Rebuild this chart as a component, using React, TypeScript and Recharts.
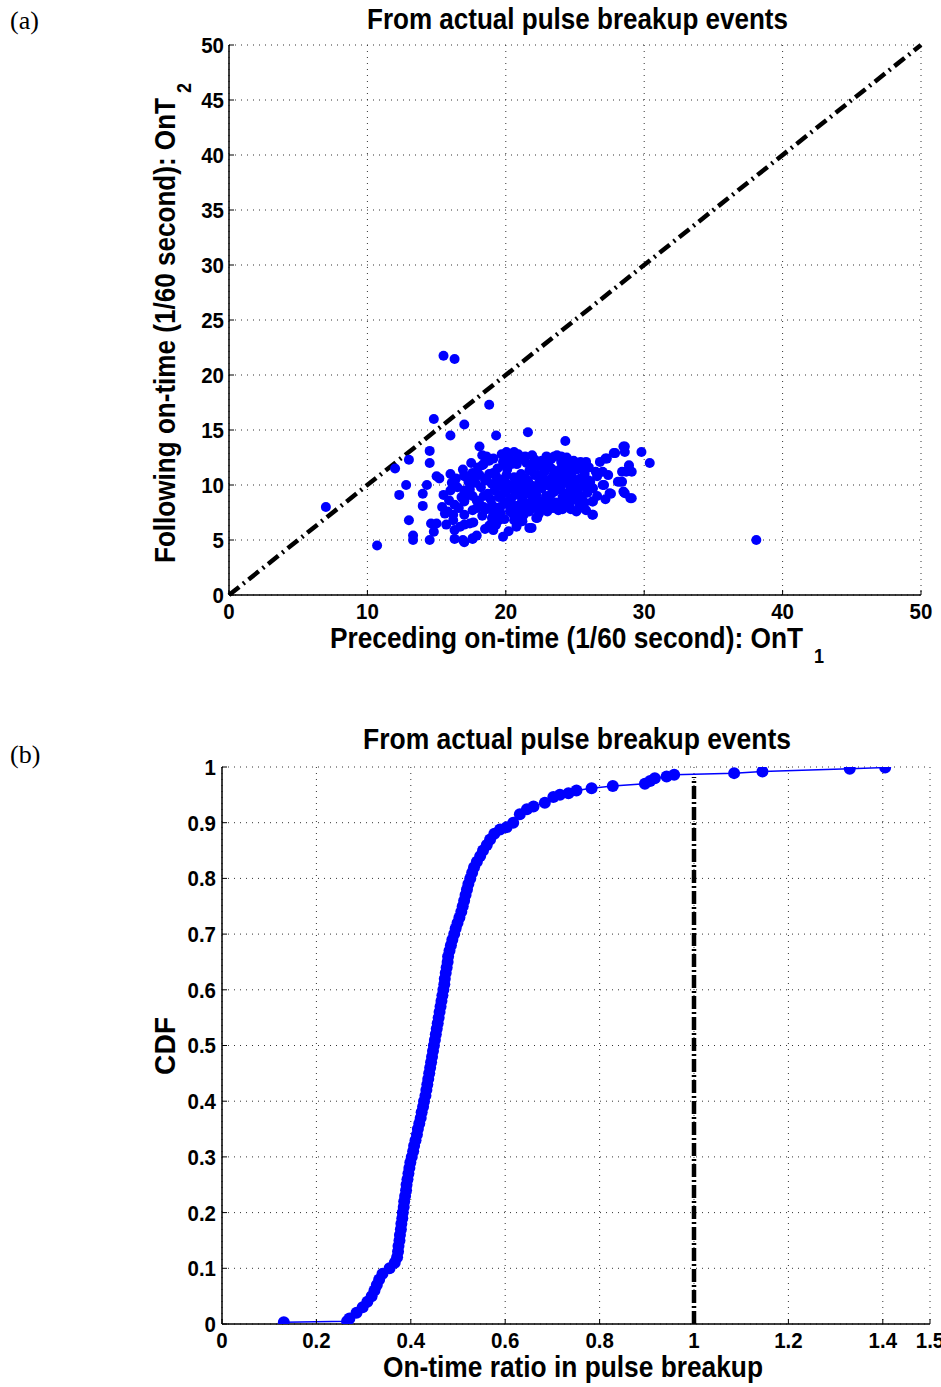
import React from 'react';
import {
  ScatterChart, Scatter, XAxis, YAxis, CartesianGrid, ReferenceLine, LineChart, Line,
} from 'recharts';

const FONT = "'Liberation Sans', Arial, 'Helvetica', sans-serif";
const SERIF = "'Liberation Serif', 'DejaVu Serif', serif";
const BLUE = '#0000ff';

// (a) preceding on-time OnT1 vs following on-time OnT2, in 1/60 s
const breakupEvents: [number, number][] = [
  [7.0, 8.0], [10.7, 4.5], [38.1, 5.0],
  [15.5, 21.75], [16.3, 21.45], [18.8, 17.3], [14.8, 16.0], [17.0, 15.5], [16.0, 14.5],
  [19.3, 14.5], [21.6, 14.8], [24.3, 14.0], [18.1, 13.5], [18.3, 12.7], [14.5, 13.1],
  [14.5, 12.0], [13.0, 12.3], [12.0, 11.5], [12.8, 10.0], [12.3, 9.1], [13.0, 6.8],
  [13.3, 5.4], [13.3, 5.0], [14.5, 5.0], [14.0, 8.1], [14.0, 9.2], [14.3, 10.0],
  [15.0, 10.8], [15.2, 10.6], [15.5, 9.1], [14.6, 6.5], [15.0, 6.5], [14.8, 5.75],
  [16.3, 5.1], [17.0, 4.8], [17.6, 5.1], [19.8, 5.3], [16.0, 11.0], [16.3, 10.3],
  [17.0, 10.8], [17.0, 9.5], [17.0, 8.5], [16.3, 8.2], [15.6, 7.4], [16.2, 7.3],
  [15.7, 6.4], [16.3, 5.9], [17.0, 7.3], [17.0, 6.4], [17.65, 6.6], [18.9, 6.4],
  [19.3, 6.4], [20.8, 6.4], [21.7, 6.1], [22.2, 7.0], [23.0, 7.6], [26.25, 7.3],
  [26.25, 8.5], [27.1, 10.0], [27.5, 9.25], [28.6, 9.25], [29.1, 8.8], [28.25, 10.3],
  [28.9, 11.8], [29.1, 11.2], [30.4, 12.0], [29.8, 13.0], [28.6, 13.5], [28.6, 13.0],
  [27.9, 12.9], [27.2, 12.4], [27.4, 10.9], [25.8, 12.1], [26.1, 10.3], [25.3, 9.1],
  [20.05, 13.0], [20.6, 13.0], [20.8, 12.3], [19.8, 12.1], [18.3, 11.8], [17.0, 10.9],
  [17.6, 11.1], [17.0, 8.6], [17.6, 7.7], [17.4, 6.5], [17.6, 5.15], [16.9, 5.0],
  [18.8, 6.3], [20.77, 6.2], [21.86, 6.1], [22.27, 7.0], [20.77, 7.1], [20.3, 7.6],
  [19.1, 7.4], [18.4, 8.0], [17.9, 8.6], [23.9, 8.2], [24.6, 8.0], [25.3, 8.3],
  [26.3, 8.5], [26.3, 7.3], [25.8, 7.7], [25.95, 10.3], [25.8, 12.0], [27.0, 11.2],
  [27.6, 9.2], [27.0, 10.0], [28.1, 10.3], [28.4, 10.3], [28.5, 9.4], [29.0, 8.8],
  [28.7, 11.2], [28.9, 11.5], [28.4, 11.2], [27.3, 12.4], [27.8, 12.9], [28.5, 13.5],
  [26.5, 11.2], [22.94, 12.6], [23.5, 12.6], [24.0, 12.6], [22.5, 11.8], [22.0, 11.8],
  [21.5, 12.0], [25.0, 11.8], [25.3, 11.7], [20.05, 10.9], [19.1, 11.1], [18.6, 10.6],
  [18.2, 9.8], [18.5, 10.4], [18.7, 9.2], [18.9, 8.7], [19.0, 10.1], [19.2, 9.5],
  [19.3, 10.8], [19.5, 8.9], [19.6, 9.9], [19.8, 10.5], [19.9, 8.4], [20.0, 9.3],
  [20.1, 11.4], [20.3, 10.0], [20.4, 8.8], [20.5, 9.6], [20.6, 10.7], [20.7, 8.1],
  [20.9, 9.1], [21.0, 10.3], [21.1, 11.0], [21.2, 8.6], [21.3, 9.8], [21.4, 10.6],
  [21.5, 9.2], [21.6, 8.3], [21.7, 11.3], [21.8, 10.0], [21.9, 9.5], [22.0, 8.8],
  [22.1, 10.9], [22.2, 9.1], [22.3, 11.7], [22.4, 10.2], [22.5, 8.5], [22.6, 9.7],
  [22.7, 10.6], [22.8, 11.2], [22.9, 9.0], [23.0, 10.4], [23.1, 8.7], [23.2, 9.9],
  [23.3, 11.5], [23.4, 10.8], [23.5, 9.4], [23.6, 8.4], [23.7, 10.1], [23.8, 11.0],
  [23.9, 9.6], [24.0, 10.5], [24.1, 8.9], [24.2, 11.6], [24.3, 9.2], [24.4, 10.3],
  [24.5, 8.6], [24.6, 11.2], [24.7, 9.8], [24.8, 10.7], [24.9, 9.0], [25.0, 10.1],
  [25.1, 11.4], [25.2, 9.5], [25.4, 10.6], [25.5, 8.9], [25.6, 9.9], [25.7, 11.0],
  [25.9, 9.3], [26.0, 10.4], [18.0, 11.6], [18.4, 11.9], [18.8, 12.2], [19.1, 12.4],
  [19.4, 11.5], [19.7, 12.8], [20.2, 12.6], [20.8, 11.9], [21.3, 12.3], [21.9, 12.7],
  [22.6, 12.2], [23.3, 12.4], [24.0, 12.1], [24.4, 12.5], [24.9, 12.2], [25.4, 12.1],
  [17.6, 9.0], [17.8, 10.2], [17.9, 7.9], [18.1, 8.3], [18.3, 7.2], [18.6, 7.8],
  [19.0, 7.0], [19.3, 7.9], [19.6, 7.5], [19.9, 6.9], [20.2, 8.2], [20.5, 7.4],
  [20.9, 7.8], [21.3, 7.3], [21.7, 7.6], [22.0, 7.9], [22.4, 7.4], [22.7, 8.0],
  [23.4, 7.9], [23.8, 7.7], [24.3, 8.1], [24.7, 7.8], [25.3, 7.9], [25.7, 8.4],
  [16.5, 9.8], [16.4, 10.6], [16.8, 8.9], [17.3, 10.3], [17.2, 9.1], [16.9, 11.4],
  [17.5, 12.0], [16.6, 7.9], [16.2, 6.8], [15.8, 7.6], [16.7, 6.2], [19.1, 5.9],
  [20.2, 5.8], [18.5, 6.0], [17.9, 5.4],
  [18.4, 9.0], [18.8, 11.0], [19.4, 10.3], [19.7, 9.1], [20.2, 9.8], [20.4, 11.9],
  [20.8, 10.0], [21.1, 9.4], [21.6, 10.4], [21.9, 8.6], [22.3, 9.9], [22.5, 10.9],
  [22.8, 8.3], [23.1, 11.8], [23.3, 9.2], [23.6, 10.6], [24.0, 9.9], [24.3, 11.1],
  [24.6, 9.4], [24.9, 10.4], [25.2, 8.6], [25.5, 11.6], [25.8, 10.0], [26.3, 9.7],
  [26.6, 10.8], [26.8, 12.1], [26.0, 11.6], [21.4, 12.6], [22.1, 12.3], [23.7, 12.7],
  [20.9, 12.8], [19.9, 11.8], [18.6, 12.6], [19.0, 8.2], [19.6, 8.0], [20.3, 8.6],
  [21.0, 8.2], [21.5, 7.9], [22.2, 8.2], [23.2, 8.1], [24.1, 7.8], [24.6, 8.4],
  [25.1, 7.6], [19.5, 6.8], [20.6, 6.8], [21.2, 6.7], [17.4, 9.6], [17.7, 10.7],
  [18.1, 10.9], [20.0, 10.2], [22.9, 10.0], [23.9, 11.4], [26.6, 9.0], [27.2, 8.7],
  [21.9, 11.6], [24.5, 12.0], [16.0, 9.5], [15.9, 8.6], [15.4, 8.0], [16.1, 10.2],
];

// (b) empirical CDF of the on-time ratio: ratio (x) and CDF level (y)
const cdfRatio = [
  0.131, 0.265, 0.270, 0.285, 0.298, 0.308, 0.317, 0.323, 0.328, 0.333, 0.340,
  0.355, 0.366, 0.371, 0.373, 0.374, 0.376, 0.377, 0.379, 0.380, 0.382, 0.383,
  0.385, 0.386, 0.388, 0.390, 0.391, 0.393, 0.395, 0.397, 0.399, 0.402, 0.405,
  0.407, 0.410, 0.413, 0.415, 0.418, 0.421, 0.423, 0.426, 0.428, 0.431, 0.433,
  0.435, 0.437, 0.439, 0.441, 0.443, 0.445, 0.447, 0.449, 0.451, 0.453, 0.455,
  0.457, 0.459, 0.461, 0.463, 0.465, 0.467, 0.469, 0.471, 0.472, 0.474, 0.476,
  0.478, 0.479, 0.482, 0.485, 0.488, 0.492, 0.495, 0.499, 0.503, 0.507, 0.510,
  0.513, 0.516, 0.519, 0.522, 0.526, 0.530, 0.534, 0.540, 0.547, 0.553, 0.561,
  0.568, 0.577, 0.589, 0.603, 0.617, 0.631, 0.646, 0.660, 0.684, 0.702, 0.716,
  0.734, 0.751, 0.783, 0.828, 0.896, 0.907, 0.917, 0.942, 0.958, 1.085, 1.145,
  1.330, 1.405,
];
const cdfLevel = [
  0.003, 0.005, 0.01, 0.02, 0.03, 0.04, 0.05, 0.06, 0.07, 0.08, 0.09,
  0.10, 0.11, 0.12, 0.13, 0.14, 0.15, 0.16, 0.17, 0.18, 0.19, 0.20,
  0.21, 0.22, 0.23, 0.24, 0.25, 0.26, 0.27, 0.28, 0.29, 0.30, 0.31,
  0.32, 0.33, 0.34, 0.35, 0.36, 0.37, 0.38, 0.39, 0.40, 0.41, 0.42,
  0.43, 0.44, 0.45, 0.46, 0.47, 0.48, 0.49, 0.50, 0.51, 0.52, 0.53,
  0.54, 0.55, 0.56, 0.57, 0.58, 0.59, 0.60, 0.61, 0.62, 0.63, 0.64,
  0.65, 0.66, 0.67, 0.68, 0.69, 0.70, 0.71, 0.72, 0.73, 0.74, 0.75,
  0.76, 0.77, 0.78, 0.79, 0.80, 0.81, 0.82, 0.83, 0.84, 0.85, 0.86,
  0.87, 0.88, 0.888, 0.892, 0.900, 0.915, 0.924, 0.929, 0.936, 0.946, 0.950,
  0.953, 0.958, 0.962, 0.966, 0.970, 0.975, 0.980, 0.983, 0.986, 0.989, 0.992,
  0.997, 0.999,
];

const xTicksA = [0, 10, 20, 30, 40, 50];
const yTicksA = [0, 5, 10, 15, 20, 25, 30, 35, 40, 45, 50];
const xTicksB = [0, 0.2, 0.4, 0.6, 0.8, 1, 1.2, 1.4, 1.5];
const yTicksB = [0, 0.1, 0.2, 0.3, 0.4, 0.5, 0.6, 0.7, 0.8, 0.9, 1];

const TITLE = 'From actual pulse breakup events';
const X_LABEL_A = 'Preceding on-time (1/60 second): OnT';
const Y_LABEL_A = 'Following on-time (1/60 second): OnT';
const X_LABEL_B = 'On-time ratio in pulse breakup';
const Y_LABEL_B = 'CDF';

const TICK_FS = 22;
const TICK_SX = 0.93;
const axisLine = { stroke: '#000', strokeWidth: 1.5 };
const fmtA = (v: number) => String(v);
const fmtB = (v: number) => String(+v.toFixed(1));

const makeTick = (axis: 'x' | 'y', fmt: (v: number) => string) => (p: any) => {
  const base = axis === 'x' ? p.y + 0.72 * TICK_FS : p.y + 0.36 * TICK_FS;
  return (
    <text
      transform={`translate(${p.x},${base}) scale(${TICK_SX},1)`}
      textAnchor={axis === 'x' ? 'middle' : 'end'}
      fontFamily={FONT} fontSize={TICK_FS} fontWeight={700} fill="#000"
    >
      {fmt(p.payload.value)}
    </text>
  );
};

const dot = (p: any) => <circle cx={p.cx} cy={p.cy} r={5} fill={BLUE} />;

const labelProps = { fontFamily: FONT, fontWeight: 700, fill: '#000', lengthAdjust: 'spacingAndGlyphs' as const };

export default function App() {
  const scatterData = breakupEvents.map(([x, y]) => ({ x, y }));
  const cdfData = cdfRatio.map((x, i) => ({ x, y: cdfLevel[i] }));
  return (
    <div style={{ position: 'absolute', left: 0, top: 0, width: 941, height: 1387, background: '#fff' }}>
      <div style={{ position: 'absolute', left: 0, top: 0 }}>
        <ScatterChart width={941} height={680} margin={{ top: 45, right: 20, bottom: 0, left: 169 }}>
          <CartesianGrid stroke="#333" strokeDasharray="1 5" />
          <XAxis type="number" dataKey="x" domain={[0, 50]} ticks={xTicksA} interval={0}
            height={85} tick={makeTick('x', fmtA)} tickSize={-5} tickMargin={13} axisLine={axisLine}
            tickLine={{ stroke: '#000' }} allowDataOverflow />
          <XAxis xAxisId="top" orientation="top" type="number" dataKey="x" domain={[0, 50]} ticks={xTicksA}
            height={0} tick={false} tickSize={-5} axisLine={axisLine} tickLine={{ stroke: '#000' }} />
          <YAxis type="number" dataKey="y" domain={[0, 50]} ticks={yTicksA} interval={0}
            width={60} tick={makeTick('y', fmtA)} tickSize={-5} tickMargin={10} axisLine={axisLine}
            tickLine={{ stroke: '#000' }} allowDataOverflow />
          <YAxis yAxisId="right" orientation="right" type="number" dataKey="y" domain={[0, 50]} ticks={yTicksA}
            width={0} tick={false} tickSize={-5} axisLine={axisLine} tickLine={{ stroke: '#000' }} />
          <Scatter data={scatterData} shape={dot} isAnimationActive={false} />
          <ReferenceLine segment={[{ x: 0, y: 0 }, { x: 50, y: 50 }]} stroke="#000" strokeWidth={4.5}
            strokeDasharray="13 5 2 5" />
        </ScatterChart>
      </div>
      <div style={{ position: 'absolute', left: 0, top: 680 }}>
        <LineChart width={941} height={707} data={cdfData} margin={{ top: 87, right: 11, bottom: 0, left: 162 }}>
          <CartesianGrid stroke="#333" strokeDasharray="1 5" />
          <XAxis type="number" dataKey="x" domain={[0, 1.5]} ticks={xTicksB} interval={0}
            height={63} tick={makeTick('x', fmtB)} tickSize={-5} tickMargin={13} axisLine={axisLine}
            tickLine={{ stroke: '#000' }} allowDataOverflow />
          <XAxis xAxisId="top" orientation="top" type="number" dataKey="x" domain={[0, 1.5]} ticks={xTicksB}
            height={0} tick={false} tickSize={-5} axisLine={axisLine} tickLine={{ stroke: '#000' }} />
          <YAxis type="number" domain={[0, 1]} ticks={yTicksB} interval={0}
            width={60} tick={makeTick('y', fmtB)} tickSize={-5} tickMargin={11} axisLine={axisLine}
            tickLine={{ stroke: '#000' }} allowDataOverflow />
          <YAxis yAxisId="right" orientation="right" type="number" domain={[0, 1]} ticks={yTicksB}
            width={0} tick={false} tickSize={-5} axisLine={axisLine} tickLine={{ stroke: '#000' }} />
          <ReferenceLine segment={[{ x: 1, y: 0 }, { x: 1, y: 0.982 }]} stroke="#000" strokeWidth={4.5}
            strokeDasharray="13 3 2 3" />
          <Line dataKey="y" stroke={BLUE} strokeWidth={1.5}
            dot={{ r: 6, fill: BLUE, stroke: 'none' }} isAnimationActive={false} />
        </LineChart>
      </div>
      <svg width={941} height={1387} style={{ position: 'absolute', left: 0, top: 0, pointerEvents: 'none' }}>
        <text x={10} y={29} fontFamily={SERIF} fontSize={26}>(a)</text>
        <text x={367} y={29} fontSize={29} textLength={421} {...labelProps}>{TITLE}</text>
        <text x={330} y={648} fontSize={29} textLength={473} {...labelProps}>{X_LABEL_A}</text>
        <text transform="translate(819,663) scale(0.86,1)" textAnchor="middle" fontFamily={FONT}
          fontWeight={700} fontSize={21}>1</text>
        <text transform="translate(175,563) rotate(-90)" fontSize={29} textLength={465} {...labelProps}>{Y_LABEL_A}</text>
        <text transform="translate(191,88) rotate(-90) scale(0.86,1)" textAnchor="middle" fontFamily={FONT}
          fontWeight={700} fontSize={21}>2</text>

        <text x={10} y={763} fontFamily={SERIF} fontSize={26}>(b)</text>
        <text x={363} y={749} fontSize={29} textLength={428} {...labelProps}>{TITLE}</text>
        <text x={383} y={1377} fontSize={29} textLength={380} {...labelProps}>{X_LABEL_B}</text>
        <text transform="translate(175,1075) rotate(-90)" fontSize={29} textLength={58} {...labelProps}>{Y_LABEL_B}</text>
      </svg>
    </div>
  );
}
